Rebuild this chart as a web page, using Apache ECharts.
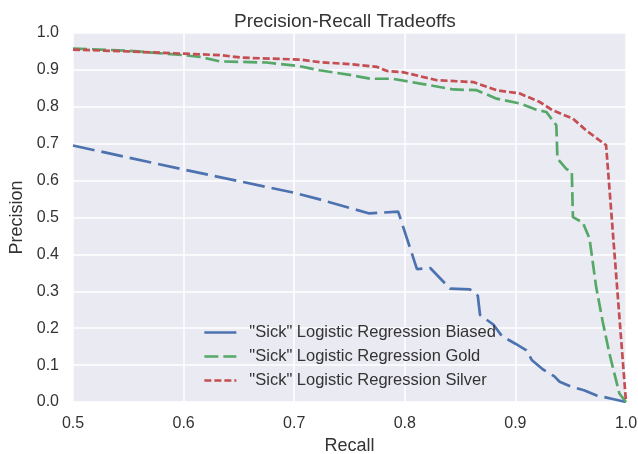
<!DOCTYPE html>
<html>
<head>
<meta charset="utf-8">
<script src="https://cdn.jsdelivr.net/npm/echarts@6/dist/echarts.min.js"></script>
<style>
html,body{margin:0;padding:0;background:#fff;}
#chart{width:638px;height:454px;}
</style>
</head>
<body>
<div id="chart"></div>
<script>
var seriesNames = ['"Sick" Logistic Regression Biased', '"Sick" Logistic Regression Gold', '"Sick" Logistic Regression Silver'];
var xTicks = [0.5, 0.6, 0.7, 0.8, 0.9, 1.0];
var yTicks = [0.0, 0.1, 0.2, 0.3, 0.4, 0.5, 0.6, 0.7, 0.8, 0.9, 1.0];

var biasedRecall    = [0.500, 0.600, 0.700, 0.723, 0.768, 0.794, 0.811, 0.823, 0.841, 0.859, 0.866, 0.868, 0.880, 0.888, 0.900, 0.910, 0.915, 0.925, 0.935, 0.940, 0.950, 0.962, 0.973, 0.988, 1.000];
var biasedPrecision = [0.695, 0.630, 0.567, 0.549, 0.511, 0.516, 0.360, 0.363, 0.307, 0.305, 0.288, 0.236, 0.210, 0.178, 0.158, 0.140, 0.113, 0.088, 0.070, 0.055, 0.042, 0.032, 0.018, 0.008, 0.000];

var goldRecall    = [0.500, 0.550, 0.600, 0.615, 0.633, 0.675, 0.705, 0.723, 0.753, 0.769, 0.789, 0.814, 0.844, 0.865, 0.883, 0.904, 0.919, 0.928, 0.937, 0.938, 0.946, 0.951, 0.952, 0.961, 0.967, 0.973, 0.979, 0.985, 0.994, 1.000];
var goldPrecision = [0.958, 0.952, 0.940, 0.935, 0.923, 0.920, 0.910, 0.899, 0.885, 0.876, 0.876, 0.863, 0.847, 0.845, 0.822, 0.809, 0.792, 0.786, 0.750, 0.660, 0.632, 0.623, 0.501, 0.486, 0.443, 0.312, 0.217, 0.131, 0.023, 0.000];

var silverRecall    = [0.500, 0.550, 0.600, 0.633, 0.654, 0.705, 0.723, 0.753, 0.775, 0.784, 0.798, 0.829, 0.862, 0.883, 0.904, 0.922, 0.934, 0.952, 0.964, 0.982, 1.000];
var silverPrecision = [0.955, 0.950, 0.944, 0.940, 0.933, 0.928, 0.921, 0.915, 0.908, 0.897, 0.894, 0.872, 0.867, 0.845, 0.836, 0.813, 0.790, 0.768, 0.736, 0.696, 0.000];

function pairs(xs, ys) { return xs.map(function (x, i) { return [x, ys[i]]; }); }

var colors = ['#4C72B0', '#55A868', '#C44E52'];
var dashes = [[22, 7], [14, 5], [7, 3]];
var font = '"Liberation Sans", Arial, sans-serif';

var chart = echarts.init(document.getElementById('chart'), null, {renderer: 'canvas'});
chart.setOption({
  animation: false,
  backgroundColor: '#ffffff',
  title: {
    text: 'Precision-Recall Tradeoffs',
    left: 234, top: 12, padding: 0,
    textStyle: {fontFamily: font, fontSize: 19, fontWeight: 'normal', color: '#333333'}
  },
  grid: {
    left: 73, right: 12, top: 33, bottom: 52,
    show: true, backgroundColor: '#EAEAF2', borderWidth: 0,
    containLabel: false, outerBoundsMode: 'none'
  },
  legend: {
    left: 203, top: 324, orient: 'vertical', padding: 0,
    itemWidth: 32, itemHeight: 14, itemGap: 7,
    itemStyle: {opacity: 0},
    textStyle: {fontFamily: font, fontSize: 16.5, color: '#333333', padding: [0, 0, 0, 8]},
    data: [
      {name: seriesNames[0], itemStyle: {opacity: 0}, lineStyle: {type: 'solid', width: 2.7, color: colors[0]}},
      {name: seriesNames[1], itemStyle: {opacity: 0}, lineStyle: {type: dashes[1], width: 2.7, color: colors[1]}},
      {name: seriesNames[2], itemStyle: {opacity: 0}, lineStyle: {type: dashes[2], width: 2.7, color: colors[2]}}
    ]
  },
  xAxis: {
    type: 'value', min: xTicks[0], max: xTicks[xTicks.length - 1], interval: 0.1,
    name: 'Recall', nameLocation: 'middle', nameGap: 34,
    nameTextStyle: {fontFamily: font, fontSize: 18, color: '#333333'},
    axisLine: {show: false}, axisTick: {show: false},
    axisLabel: {margin: 14, fontFamily: font, fontSize: 16, color: '#333333',
      formatter: function (v) { return v.toFixed(1); }},
    splitLine: {show: true, lineStyle: {color: '#ffffff', width: 1.5}}
  },
  yAxis: {
    type: 'value', min: yTicks[0], max: yTicks[yTicks.length - 1], interval: 0.1,
    name: 'Precision', nameLocation: 'middle', nameGap: 40, nameRotate: 90,
    nameTextStyle: {fontFamily: font, fontSize: 18, color: '#333333'},
    axisLine: {show: false}, axisTick: {show: false},
    axisLabel: {margin: 14, fontFamily: font, fontSize: 16, color: '#333333',
      formatter: function (v) { return v.toFixed(1); }},
    splitLine: {show: true, lineStyle: {color: '#ffffff', width: 1.5}}
  },
  series: [
    {name: seriesNames[0], type: 'line', symbol: 'none', data: pairs(biasedRecall, biasedPrecision),
      lineStyle: {color: colors[0], width: 2.7, type: dashes[0]}, itemStyle: {color: colors[0]}},
    {name: seriesNames[1], type: 'line', symbol: 'none', data: pairs(goldRecall, goldPrecision),
      lineStyle: {color: colors[1], width: 2.7, type: dashes[1]}, itemStyle: {color: colors[1]}},
    {name: seriesNames[2], type: 'line', symbol: 'none', data: pairs(silverRecall, silverPrecision),
      lineStyle: {color: colors[2], width: 2.7, type: dashes[2]}, itemStyle: {color: colors[2]}}
  ]
});
</script>
</body>
</html>
